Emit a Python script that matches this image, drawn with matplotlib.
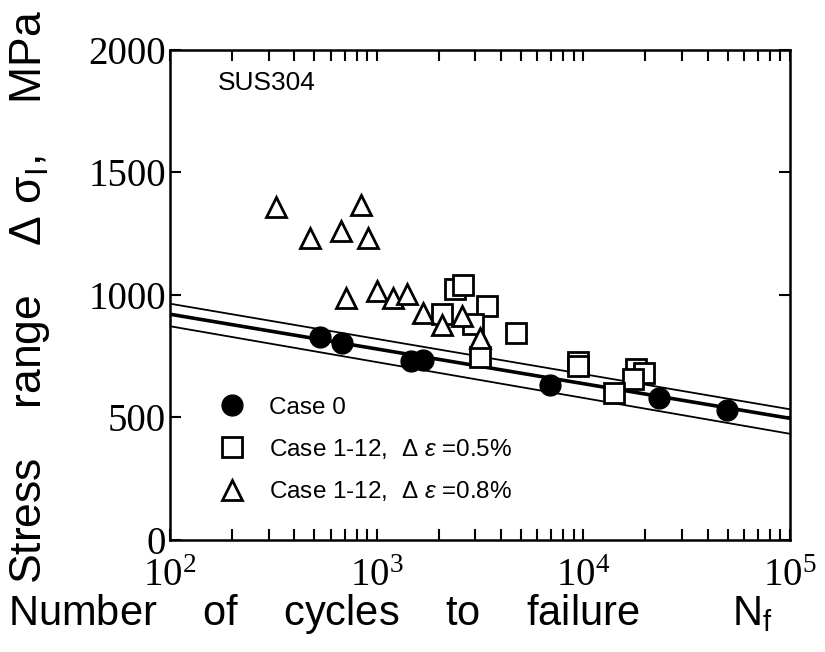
import matplotlib
matplotlib.use("Agg")
import matplotlib.pyplot as plt
from matplotlib.lines import Line2D
from matplotlib.ticker import LogLocator, FixedLocator, NullFormatter

plt.rcParams["font.family"] = ["Liberation Sans", "DejaVu Sans"]
plt.rcParams["mathtext.fontset"] = "custom"
plt.rcParams["mathtext.rm"] = "Liberation Sans"
plt.rcParams["mathtext.it"] = "Liberation Sans:italic"

# ---------------------------------------------------------------------------
# Data
# ---------------------------------------------------------------------------
case0_N = [530, 680, 1470, 1680, 6900, 23200, 49500]
case0_S = [830, 805, 730, 735, 632, 579, 532]

sq_N = [2390, 2620, 2070, 3420, 2930, 4720, 3160, 9420, 9420, 17950, 19600, 17400, 14060]
sq_S = [1022, 1040, 921, 955, 882, 845, 746, 728, 710, 698, 682, 655, 600]

tri_N = [326, 839, 476, 672, 908, 710, 1003, 1200, 1403, 1676, 2070, 2588, 3162]
tri_S = [1360, 1368, 1234, 1262, 1231, 987, 1015, 987, 1002, 928, 875, 915, 825]

fit_N = [1e2, 1e5]
fit_upper = [964, 533]
fit_mean = [921, 496]
fit_lower = [872, 433]

y_ticks = [0, 500, 1000, 1500, 2000]

# ---------------------------------------------------------------------------
# Figure
# ---------------------------------------------------------------------------
fig = plt.figure(figsize=(8.25, 6.52), dpi=100)
ax = fig.add_axes([0.206, 0.172, 0.7515, 0.7515])

# ── regression band ──────────────────────────────────────────────
ax.plot(fit_N, fit_upper, color="black", linewidth=1.3, zorder=1)
ax.plot(fit_N, fit_mean, color="black", linewidth=2.6, zorder=1)
ax.plot(fit_N, fit_lower, color="black", linewidth=1.3, zorder=1)

# ── data points ──────────────────────────────────────────────────
ax.plot(sq_N, sq_S, linestyle="none", marker="s", markersize=14,
        markerfacecolor="white", markeredgecolor="black", markeredgewidth=2, zorder=3)
ax.plot(tri_N, tri_S, linestyle="none", marker="^", markersize=15,
        markerfacecolor="white", markeredgecolor="black", markeredgewidth=2, zorder=3)
ax.plot(case0_N, case0_S, linestyle="none", marker="o", markersize=15,
        color="black", zorder=4)

# ── axes ─────────────────────────────────────────────────────────
ax.set_xscale("log")
ax.set_xlim(1e2, 1e5)
ax.set_ylim(0, 2000)
ax.yaxis.set_major_locator(FixedLocator(y_ticks))
ax.xaxis.set_major_locator(LogLocator(base=10, numticks=10))
ax.xaxis.set_minor_locator(LogLocator(base=10, subs=range(2, 10), numticks=20))
ax.xaxis.set_minor_formatter(NullFormatter())

for spine in ax.spines.values():
    spine.set_linewidth(1.8)

ax.tick_params(which="both", direction="in", top=True, right=True, width=1.5)
ax.tick_params(which="major", length=8)
ax.tick_params(which="minor", length=8)
ax.tick_params(axis="y", pad=3)
ax.tick_params(axis="x", pad=13)
for lab in ax.get_xticklabels() + ax.get_yticklabels():
    lab.set_family(["Liberation Serif", "DejaVu Serif"])
    lab.set_fontsize(28)

ax.set_xlabel("Number    of    cycles    to    failure        N$_\\mathrm{f}$", fontsize=30)
ax.xaxis.set_label_coords(0.355, -0.106)
ax.set_ylabel("Stress    range    Δ σ$_\\mathrm{I}$,    MPa", fontsize=32)
ax.yaxis.set_label_coords(-0.19, 0.496)

ax.text(0.077, 0.933, "SUS304", transform=ax.transAxes, fontsize=19,
        ha="left", va="center")

# ── legend ───────────────────────────────────────────────────────
handles = [
    Line2D([], [], linestyle="none", marker="o", markersize=15, color="black"),
    Line2D([], [], linestyle="none", marker="s", markersize=14,
           markerfacecolor="white", markeredgecolor="black", markeredgewidth=2),
    Line2D([], [], linestyle="none", marker="^", markersize=15,
           markerfacecolor="white", markeredgecolor="black", markeredgewidth=2),
]
labels = [
    "Case 0",
    "Case 1-12,  Δ $\\mathit{\\varepsilon}$ =0.5%",
    "Case 1-12,  Δ $\\mathit{\\varepsilon}$ =0.8%",
]
ax.legend(handles, labels, loc="lower left", bbox_to_anchor=(0.081, 0.075),
          frameon=False, fontsize=17.5, handlelength=1.0, handletextpad=1.0,
          labelspacing=0.75, borderpad=0, borderaxespad=0)

fig.savefig("out.png", dpi=100)
plt.close(fig)
